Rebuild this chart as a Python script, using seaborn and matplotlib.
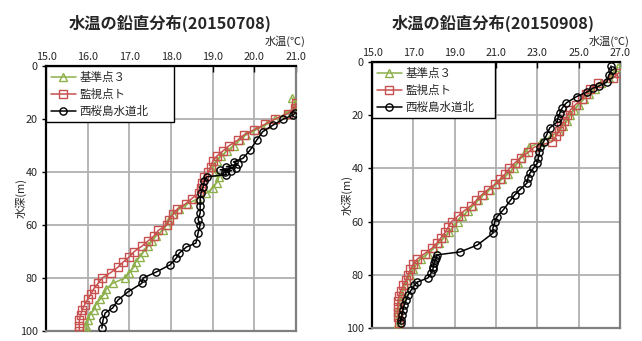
import numpy as np
import pandas as pd
import matplotlib
matplotlib.use("Agg")
import matplotlib.pyplot as plt
import seaborn as sns

# ---- 2015-07-08 profiles (temperature degC, depth m) ----
jul_ref3_depth = [12, 14, 16, 18, 20, 22, 24, 26, 28, 30, 32, 34, 36, 38, 40, 42, 44, 46, 48, 50,
                  52, 54, 56, 58, 60, 62, 64, 66, 68, 70, 72, 74, 76, 78, 80, 82, 84, 86, 88, 90,
                  92, 94, 96, 98, 100]
jul_ref3_temp = [20.9, 21.0, 20.95, 20.75, 20.5, 20.3, 20.05, 19.8, 19.65, 19.5, 19.35, 19.2, 19.1, 19.0,
                 19.05, 19.15, 19.1, 19.0, 18.85, 18.65, 18.4, 18.2, 18.05, 17.95, 17.9, 17.8, 17.65,
                 17.55, 17.45, 17.35, 17.25, 17.15, 17.1, 17.0, 16.9, 16.6, 16.45, 16.4, 16.3, 16.2,
                 16.15, 16.05, 16.0, 15.97, 15.95]

jul_mon_depth = [14, 16, 18, 20, 22, 24, 26, 28, 30, 32, 34, 36, 38, 40, 42, 44, 46, 48, 50, 52,
                 54, 56, 58, 60, 62, 64, 66, 68, 70, 72, 74, 76, 78, 80, 82, 84, 86, 88, 90, 92,
                 94, 96, 98, 100]
jul_mon_temp = [21.0, 20.97, 20.8, 20.5, 20.25, 20.0, 19.75, 19.6, 19.4, 19.25, 19.1, 19.0, 18.95, 18.9,
                18.8, 18.75, 18.72, 18.68, 18.5, 18.35, 18.15, 18.05, 17.95, 17.9, 17.7, 17.6, 17.45,
                17.3, 17.12, 17.0, 16.85, 16.72, 16.55, 16.35, 16.25, 16.15, 16.08, 16.0, 15.93,
                15.87, 15.83, 15.8, 15.8, 15.8]

jul_nish_depth = [17.7, 18.5, 20, 22.3, 24.8, 27.9, 31.7, 34.8, 36.2, 37, 38, 38.5, 39.2, 39.5, 40, 41,
                  41.8, 43.5, 45.6, 48, 50.6, 53, 55.5, 58, 60, 63, 66.8, 68.3, 70.6, 72.4, 75, 77.7,
                  80, 82, 85.2, 88.3, 91.3, 93.2, 95.8, 98.9]
jul_nish_temp = [20.98, 20.93, 20.7, 20.45, 20.2, 20.06, 19.9, 19.73, 19.5, 19.6, 19.33, 19.55, 19.18,
                 19.45, 19.3, 19.33, 18.86, 18.8, 18.77, 18.72, 18.7, 18.7, 18.7, 18.65, 18.7, 18.65,
                 18.6, 18.37, 18.2, 18.13, 17.98, 17.65, 17.33, 17.3, 16.97, 16.73, 16.6, 16.42,
                 16.37, 16.34]

# ---- 2015-09-08 profiles ----
sep_ref3_depth = [2, 4, 6, 8, 10, 12, 14, 16, 18, 20, 22, 24, 26, 28, 30, 32, 34, 36, 38, 40, 42,
                  44, 46, 48, 50, 52, 54, 56, 58, 60, 62, 64, 66, 68, 70, 72, 74, 76, 78, 80, 82,
                  84, 86, 88, 90, 92, 94, 96, 98, 100]
sep_ref3_temp = [26.9, 26.7, 26.45, 26.1, 25.8, 25.5, 25.25, 25.0, 24.77, 24.6, 24.45, 24.25, 24.05,
                 23.65, 23.2, 22.6, 22.4, 22.2, 22.05, 21.85, 21.6, 21.3, 21.0, 20.7, 20.4, 20.15,
                 19.9, 19.65, 19.35, 19.15, 18.95, 18.75, 18.5, 18.25, 18.0, 17.7, 17.35, 17.15,
                 17.0, 16.85, 16.7, 16.6, 16.5, 16.42, 16.35, 16.3, 16.27, 16.26, 16.26, 16.26]

sep_mon_depth = [4, 6, 8, 10, 12, 14, 16, 18, 20, 22, 24, 26, 28, 30, 32, 34, 36, 38, 40, 42, 44,
                 46, 48, 50, 52, 54, 56, 58, 60, 62, 64, 66, 68, 70, 72, 74, 76, 78, 80, 82, 84,
                 86, 88, 90, 92, 94, 96, 98]
sep_mon_temp = [26.95, 26.66, 25.95, 25.55, 25.35, 25.15, 24.85, 24.6, 24.45, 24.3, 24.15, 24.05, 23.9,
                23.7, 22.85, 22.55, 22.2, 21.9, 21.65, 21.45, 21.2, 20.95, 20.6, 20.3, 20.05, 19.8,
                19.45, 19.15, 18.85, 18.7, 18.55, 18.35, 18.15, 17.9, 17.55, 17.2, 17.0, 16.85,
                16.75, 16.65, 16.5, 16.38, 16.3, 16.26, 16.25, 16.26, 16.28, 16.3]

sep_nish_depth = [1.5, 3, 5, 7.5, 9, 9.8, 11.3, 13, 15.4, 17.3, 19, 21, 22.6, 24.8, 27.4, 30, 32, 34,
                  36, 38, 40, 41.7, 43.5, 45.5, 48, 50, 52, 55.6, 58.2, 60, 62.4, 64.3, 68.8, 71.4,
                  72.5, 73.5, 74.5, 75.5, 77, 78, 79.5, 81.2, 82.7, 84, 85.7, 87.5, 89.5, 91.5,
                  93.2, 95, 97, 98]
sep_nish_temp = [26.56, 26.6, 26.45, 26.37, 26.0, 25.7, 25.4, 24.9, 24.4, 24.2, 24.1, 24.0, 23.95,
                 23.6, 23.45, 23.3, 23.15, 23.1, 23.05, 23.0, 22.8, 22.65, 22.55, 22.5, 22.16, 21.9,
                 21.7, 21.35, 21.05, 20.95, 20.85, 20.86, 20.1, 19.26, 18.15, 18.1, 18.05, 18.0,
                 17.96, 17.95, 17.85, 17.7, 17.2, 17.05, 16.9, 16.75, 16.65, 16.55, 16.5, 16.45,
                 16.4, 16.38]

site_names = ["基準点３", "監視点ト", "西桜島水道北"]
site_colors = ["#8DB04A", "#C8504E", "#000000"]
site_markers = ["^", "s", "o"]
site_msize = [5.2, 5.2, 5.2]

titles = ["水温の鉛直分布(20150708)", "水温の鉛直分布(20150908)"]
xticks_sets = [[15.0, 16.0, 17.0, 18.0, 19.0, 20.0, 21.0],
               [15.0, 17.0, 19.0, 21.0, 23.0, 25.0, 27.0]]
yticks = [0, 20, 40, 60, 80, 100]

panels = [
    [(jul_ref3_temp, jul_ref3_depth), (jul_mon_temp, jul_mon_depth), (jul_nish_temp, jul_nish_depth)],
    [(sep_ref3_temp, sep_ref3_depth), (sep_mon_temp, sep_mon_depth), (sep_nish_temp, sep_nish_depth)],
]

sns.set_theme(style="white")
plt.rcParams["font.family"] = ["Noto Sans CJK JP", "DejaVu Sans"]

fig = plt.figure(figsize=(6.42, 3.41), dpi=100)
ax_rects = [[46 / 642, 1 - 331 / 341, 250 / 642, 265 / 341],
            [372 / 642, 1 - 328 / 341, 248 / 642, 266 / 341]]
legend_w = [128 / 250, 123 / 248]
title_x = [170 / 642, 493 / 642]
unit_x = [306 / 642, 630 / 642]

grid_col = "#B0B0B0"

for p in range(2):
    ax = fig.add_axes(ax_rects[p])
    for s in range(3):
        t, d = panels[p][s]
        df = pd.DataFrame({"temp": t, "depth": d})
        sns.lineplot(data=df, x="temp", y="depth", sort=False, estimator=None, ax=ax,
                     color=site_colors[s], linewidth=1.1, marker=site_markers[s],
                     markersize=site_msize[s], markerfacecolor="none",
                     markeredgecolor=site_colors[s], markeredgewidth=1.0,
                     label=site_names[s], zorder=3 + s)
    xt = xticks_sets[p]
    ax.set_xlim(xt[0], xt[-1])
    ax.set_ylim(100, 0)
    ax.set_xticks(xt)
    ax.set_xticklabels([f"{v:.1f}" for v in xt], fontsize=7.8)
    ax.set_yticks(yticks)
    ax.set_yticklabels([str(v) for v in yticks], fontsize=7.8)
    ax.xaxis.tick_top()
    ax.xaxis.set_label_position("top")
    ax.set_xlabel("")
    ax.set_ylabel("水深(m)", fontsize=8, labelpad=-5)
    ax.grid(True, color=grid_col, linewidth=1.3)
    ax.set_axisbelow(True)
    ax.tick_params(axis="x", direction="in", length=4, width=1, color="black", pad=3, top=True)
    ax.tick_params(axis="y", direction="out", length=3, width=1, color="black", pad=3, left=True)
    for side in ["left", "top"]:
        ax.spines[side].set_color("black")
        ax.spines[side].set_linewidth(1.6)
    for side in ["right", "bottom"]:
        ax.spines[side].set_color("#808080")
        ax.spines[side].set_linewidth(1.6)
    leg = ax.legend(loc="upper left", bbox_to_anchor=(0, 1, legend_w[p], 0), mode="expand",
                    fontsize=8.3, frameon=True, fancybox=False,
                    borderaxespad=0.0, handlelength=2.2, handletextpad=0.3,
                    borderpad=0.4, labelspacing=0.35)
    leg.get_frame().set_edgecolor("black")
    leg.get_frame().set_linewidth(1.0)
    leg.get_frame().set_alpha(1.0)
    fig.text(title_x[p], 1 - 23 / 341, titles[p], ha="center", va="center",
             fontsize=11.7, fontweight="bold")
    fig.text(unit_x[p], 1 - 41 / 341, "水温(℃)", ha="right", va="center", fontsize=8)

fig.savefig("out.png", dpi=100)
